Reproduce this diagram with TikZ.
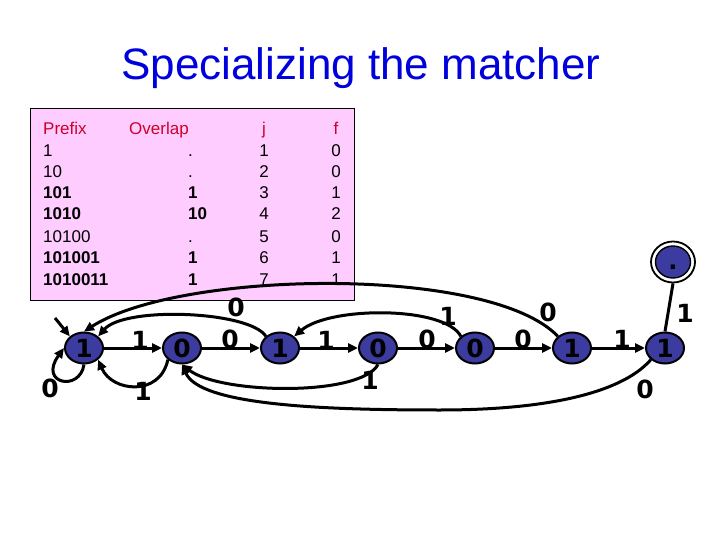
\documentclass[tikz,border=0pt]{standalone}
\usepackage{fontspec}
\setmainfont{Liberation Sans}
\newfontfamily\dv{DejaVu Sans}
\usetikzlibrary{shapes.geometric,arrows.meta}
\definecolor{nodeblue}{RGB}{60,60,160}
\definecolor{tabpink}{RGB}{255,204,255}
\definecolor{hdrred}{RGB}{204,0,40}
\definecolor{titleblue}{RGB}{0,0,220}
\begin{document}
\begin{tikzpicture}[x=1pt,y=-1pt,
  st/.style={ellipse, draw=black, line width=2pt, fill=nodeblue, minimum width=38pt, minimum height=31pt, inner sep=0pt, font=\dv\bfseries\fontsize{25}{25}\selectfont},
  lbl/.style={font=\dv\bfseries\fontsize{25}{25}\selectfont, inner sep=0pt},
  tx/.style={font=\fontsize{17}{17}\selectfont, inner sep=0pt},
  hd/.style={tx, text=hdrred},
  arr/.style={line width=3pt, -{Triangle[length=10pt,width=9pt]}},
  ln/.style={line width=3pt}
]
\useasboundingbox (0,0) rectangle (720,540);
% title
\node[font=\fontsize{44}{44}\selectfont, text=titleblue, inner sep=0pt, anchor=base] (title) at (361,80) {Specializing the matcher};
% table box
\path[fill=tabpink, draw=black, line width=0.8pt] (30,108) rectangle (354,300);
% headers
\node[hd, anchor=base west] (hp) at (43,135) {Prefix};
\node[hd, anchor=base west] (ho) at (129,135) {Overlap};
\node[hd, anchor=base] (hj) at (264,135) {j};
\node[hd, anchor=base] (hf) at (336,135) {f};
% rows
\foreach \i/\p/\o/\j/\f/\y in {1/1/./1/0/157, 2/10/./2/0/178, 3/\textbf{101}/\textbf{1}/3/1/199, 4/\textbf{1010}/\textbf{10}/4/2/220, 5/10100/./5/0/242, 6/\textbf{101001}/\textbf{1}/6/1/263, 7/\textbf{1010011}/\textbf{1}/7/1/285}{
  \node[tx, anchor=base west] (p\i) at (43,\y) {\p};
  \node[tx, anchor=base west] (o\i) at (188,\y) {\o};
  \node[tx, anchor=base] (j\i) at (264,\y) {\j};
  \node[tx, anchor=base] (f\i) at (336,\y) {\f};
}
% states
\node[st] (n1) at (84,348) {1};
\node[st] (n2) at (182,348) {0};
\node[st] (n3) at (280,348) {1};
\node[st] (n4) at (378,348) {0};
\node[st] (n5) at (475,348) {0};
\node[st] (n6) at (572,348) {1};
\node[st] (n7) at (665,348) {1};
\node[ellipse, draw=black, line width=1.8pt, fill=white, minimum width=44pt, minimum height=41pt, inner sep=0pt] (fin) at (673,262) {};
\node[ellipse, draw=black, line width=1.4pt, fill=nodeblue, minimum width=35pt, minimum height=32pt, inner sep=0pt, text height=14pt, text depth=0pt, font=\dv\bfseries\fontsize{24}{24}\selectfont] (fin2) at (fin.center) {.};
% start arrow
\coordinate (s) at (55,318);
\draw[arr] (s) -- (n1.north west);
% self loop
\draw[arr] (n1.south) .. controls (80,392) and (38,384) .. (n1.west);
\node[lbl] (l11) at (50,388) {0};
% straight edges
\draw[arr] (n1) -- (n2); \node[lbl] (l12) at (140,340) {1};
\draw[arr] (n2) -- (n3); \node[lbl] (l23) at (230,339) {0};
\draw[arr] (n3) -- (n4); \node[lbl] (l34) at (326,340) {1};
\draw[arr] (n4) -- (n5); \node[lbl] (l45) at (427,339) {0};
\draw[arr] (n5) -- (n6); \node[lbl] (l56) at (523,339) {0};
\draw[arr] (n6) -- (n7); \node[lbl] (l67) at (622,339) {1};
\draw[ln] (n7.north) -- (fin.south); \node[lbl] (l7f) at (685,313) {1};
% back edges
\draw[arr] (n2.south west) .. controls (160,397) and (112,392) .. (n1.south east);
\node[lbl] (l21) at (143,391) {1};
\draw[arr] (n3.north west) .. controls (250,311) and (125,306) .. (n1.north east);
\node[lbl] (l31) at (236,307) {0};
\draw[arr] (n6.north west) .. controls (490,265) and (180,270) .. (n1.north);
\node[lbl] (l61) at (548,312) {0};
\draw[arr] (n5.north west) .. controls (445,306) and (330,306) .. (n3.north east);
\node[lbl] (l53) at (448,316) {1};
\draw[arr] (n4.south) .. controls (360,397) and (220,394) .. (n2.south);
\node[lbl] (l42) at (370,380) {1};
\draw[arr] (n7.south west) .. controls (620,395) and (540,410) .. (440,410) .. controls (320,410) and (200,405) .. (n2.south);
\node[lbl] (l72) at (645,389) {0};
\end{tikzpicture}
\end{document}
